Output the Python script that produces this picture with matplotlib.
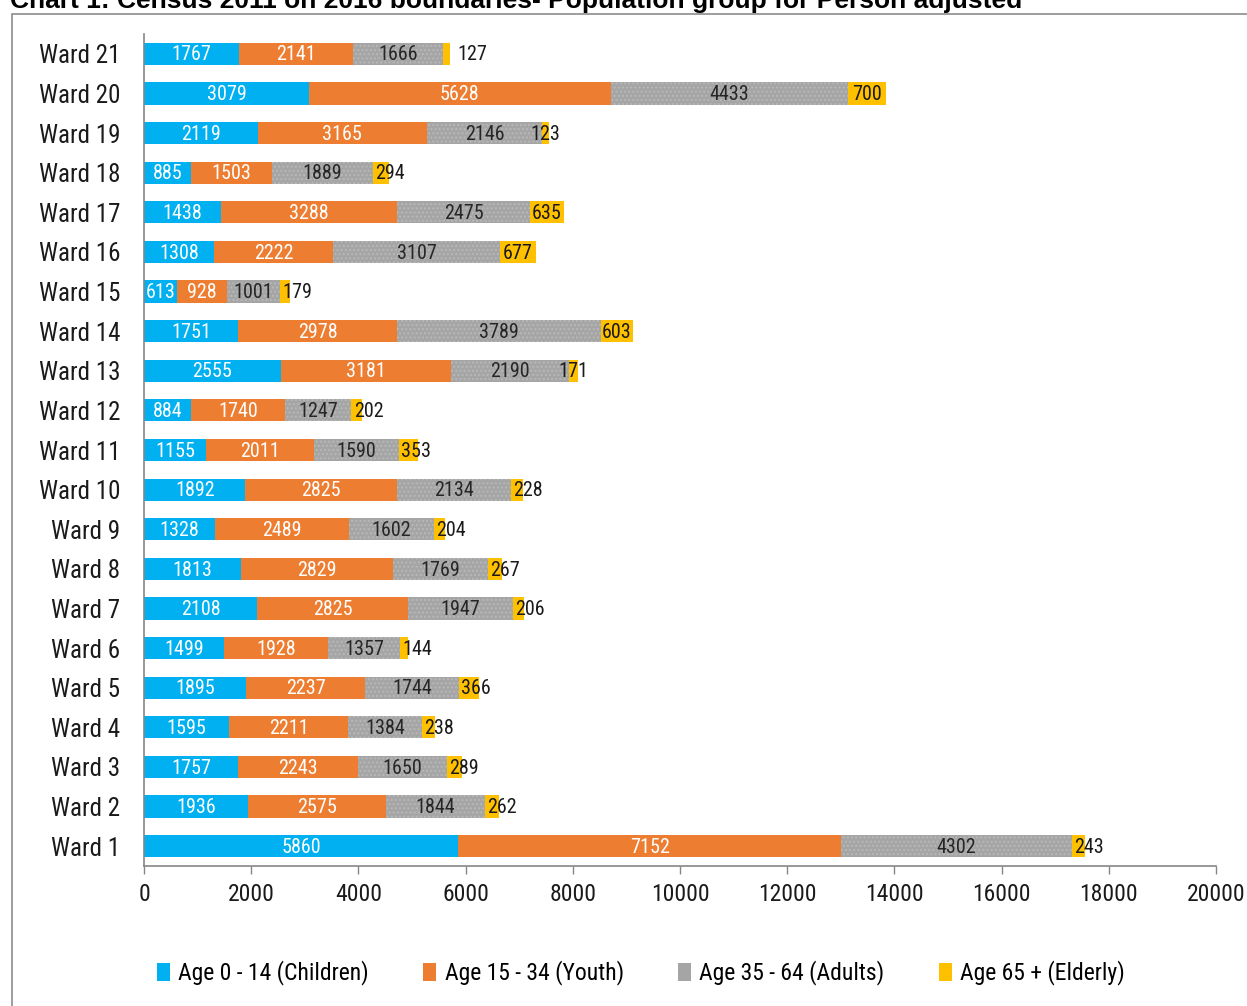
import numpy as np
import matplotlib.pyplot as plt
from matplotlib import font_manager
from matplotlib.patches import Patch, Rectangle

wards = ['Ward %d' % i for i in range(1, 22)]
children = [5860, 1936, 1757, 1595, 1895, 1499, 2108, 1813, 1328, 1892, 1155,
            884, 2555, 1751, 613, 1308, 1438, 885, 2119, 3079, 1767]
youth = [7152, 2575, 2243, 2211, 2237, 1928, 2825, 2829, 2489, 2825, 2011,
         1740, 3181, 2978, 928, 2222, 3288, 1503, 3165, 5628, 2141]
adults = [4302, 1844, 1650, 1384, 1744, 1357, 1947, 1769, 1602, 2134, 1590,
          1247, 2190, 3789, 1001, 3107, 2475, 1889, 2146, 4433, 1666]
elderly = [243, 262, 289, 238, 366, 144, 206, 267, 204, 228, 353,
           202, 171, 603, 179, 677, 635, 294, 123, 700, 127]

series_names = ['Age 0 - 14 (Children)', 'Age 15 - 34 (Youth)',
                'Age 35 - 64 (Adults)', 'Age 65 + (Elderly)']
colors = ['#00B0F0', '#ED7D31', '#A5A5A5', '#FFC000']
text_colors = ['white', 'white', '#262626', '#1a1a1a']

# pick a narrow sans if one is around
available = {f.name for f in font_manager.fontManager.ttflist}
narrow = 'Liberation Sans'
for name in ['Liberation Sans Narrow', 'Arial Narrow', 'Roboto Condensed']:
    if name in available:
        narrow = name
        break

fig = plt.figure(figsize=(12.47, 10.06), dpi=100)
ax = fig.add_axes([144 / 1247, 1 - 866 / 1006, 1072 / 1247, 832 / 1006])

y = np.arange(len(wards))
left = np.zeros(len(wards))
data = [children, youth, adults, elderly]
for k, vals in enumerate(data):
    vals = np.array(vals)
    if k == 2:
        ax.barh(y, vals, left=left, height=0.56, color=colors[k],
                hatch='....', edgecolor='#b8b8b8', linewidth=0)
    else:
        ax.barh(y, vals, left=left, height=0.56, color=colors[k], linewidth=0)
    for i, v in enumerate(vals):
        if k < 3:
            ax.text(left[i] + v / 2, y[i] - 0.03, str(v), ha='center', va='center',
                    color=text_colors[k], fontsize=14.5, family=narrow)
        else:
            ward = i + 1
            if ward == 21:
                xt, ha = left[i] + v + 150, 'left'
            elif ward in (13, 19) or v > 500:
                xt, ha = left[i] + v / 2, 'center'
            else:
                xt, ha = left[i] + 40, 'left'
            ax.text(xt, y[i] - 0.03, str(v), ha=ha, va='center',
                    color=text_colors[k], fontsize=14.5, family=narrow)
    left += vals

ax.set_xlim(0, 20000)
ax.set_ylim(-0.5, 20.5)
ax.set_xticks(np.arange(0, 20001, 2000))
ax.set_yticks(y)
ax.set_yticklabels(wards)
for lab in ax.get_xticklabels():
    lab.set_family(narrow)
    lab.set_fontsize(17)
    lab.set_color('#1a1a1a')
for lab in ax.get_yticklabels():
    lab.set_family(narrow)
    lab.set_fontsize(18)
    lab.set_color('#1a1a1a')
ax.tick_params(axis='x', length=6, width=1, color='#868686', pad=6, direction='out')
ax.tick_params(axis='y', length=0, pad=17)
for s in ['top', 'right']:
    ax.spines[s].set_visible(False)
for s in ['left', 'bottom']:
    ax.spines[s].set_color('#868686')
    ax.spines[s].set_linewidth(1.2)

handles = [Patch(facecolor=c, edgecolor='none') for c in colors]
fig.legend(handles, series_names, loc='center', ncol=4,
           bbox_to_anchor=(0.514, 1 - 973 / 1006), frameon=False,
           prop={'family': narrow, 'size': 17}, handlelength=0.55,
           handleheight=0.8, handletextpad=0.35, columnspacing=2.3)

# outer frame round the chart
fig.patches.append(Rectangle((12 / 1247, -0.05), 1.1, 1.05 - 14 / 1006,
                             transform=fig.transFigure, fill=False,
                             edgecolor='#8c8c8c', linewidth=1.2))

fig.text(10 / 1247, 1 - 8 / 1006,
         'Chart 1: Census 2011 on 2016 boundaries- Population group for Person adjusted',
         ha='left', va='baseline', fontsize=19, fontweight='bold',
         family='Liberation Sans', color='black')

fig.savefig('out.png', dpi=100)
